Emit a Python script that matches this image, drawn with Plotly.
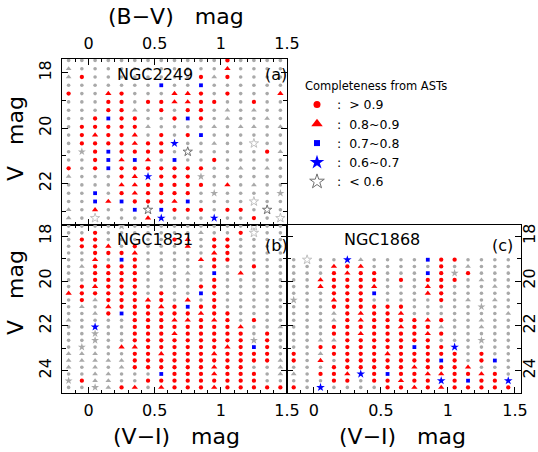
import plotly.graph_objects as go

W, H = 538, 452
FONT = "DejaVu Sans"

# colour-bin centres (mag), same for every panel
COLOR_BINS = [-0.15, -0.05, 0.05, 0.15, 0.25, 0.35, 0.45, 0.55, 0.65,
              0.75, 0.85, 0.95, 1.05, 1.15, 1.25, 1.35, 1.45]

# V-magnitude bin centres per panel
V_BINS_A = [17.55, 17.85, 18.15, 18.45, 18.75, 19.05, 19.35, 19.65, 19.95, 20.25,
            20.55, 20.85, 21.15, 21.45, 21.75, 22.05, 22.35, 22.65, 22.95, 23.25]
V_BINS_B = [17.55, 17.85, 18.15, 18.45, 18.75, 19.05, 19.35, 19.65, 19.95, 20.25,
            20.55, 20.85, 21.15, 21.45, 21.75, 22.05, 22.35, 22.65, 22.95, 23.25,
            23.55, 23.85, 24.15, 24.45, 24.75]
V_BINS_C = [19.05, 19.35, 19.65, 19.95, 20.25, 20.55, 20.85, 21.15, 21.45, 21.75,
            22.05, 22.35, 22.65, 22.95, 23.25, 23.55, 23.85, 24.15, 24.45, 24.75]

# completeness class per cell
# R >0.9  T 0.8-0.9  B 0.7-0.8  S 0.6-0.7  H <0.6   (inside the selection)
# g/G/x/h : same classes drawn in grey (outside the selection)
GRID_A = [
    "ggggggggggggRgggg",
    "GgggggggggggTgggg",
    "GRggggggggRGRgggg",
    "gggggggBggBgggggg",
    "RggTRgggTTRgRgggT",
    "gggRRgRRTTRRggRgg",
    "gggRRGgRgRRgGgGgg",
    "ggRBRRggRBRgGggGg",
    "gRRRRRGggggGgGGgG",
    "gRTRRTgRgRBgggggg",
    "gRRRRTRRSggGgghgg",
    "gxRBRRRRgHgggggRG",
    "ggRBTBTgBggRggggg",
    "RgRBRRRRRRRggGgGg",
    "GgggRTSRRRxgggggg",
    "ggggTTRRRRRgTgGgg",
    "ggBgRTRRRRgxggggx",
    "ggBTBRRRTBgggghgg",
    "GgTggBHBRRRgRRgHg",
    "GghgggTSgggSggRgh",
]
GRID_B = [
    "ggggxggggggggghgg",
    "ggRgggggggGggRhgg",
    "gRRgggggRTgRRgggg",
    "gRRTgRgggTgRRgggg",
    "ggRRRTgggggTRgggg",
    "ggTgBRggggTRRgggg",
    "gGRRRRgggggRggRgg",
    "ggRRRRgggGgBgTggg",
    "ggRRRRgggggRggggg",
    "gRTRRRggggRRggggg",
    "TRRRRRgRggBRggggg",
    "gRGRRRTRgTgRggggg",
    "gGgTRRRTRBRRggggg",
    "ggGRBRRRRRTRRgggg",
    "GggggRRRTTRTRgRgg",
    "ggSggRRRRRRRRTggG",
    "ggxggRRRTRRRRRgRg",
    "ggxggRRRRRRRRRxRg",
    "gxggTTRRRRRRTRBRg",
    "GGGggRRTRRRTRRRRg",
    "GGGGGRRRRRRRRRRRG",
    "GgGgGRRRRRRTRRggG",
    "ggGGgggBRRRTRRRgG",
    "xRGGggRRRRRRRRRgg",
    "ggxGRTgTRRRTRRRRR",
]
GRID_C = [
    "ghggSGggggBRRgggg",
    "gggTRTgggggRgGggg",
    "gggRTRRgggBRxRggg",
    "ggTRRRRgRgRRRgGgg",
    "ggTRRRTgggTRgggGg",
    "gggRRRBgggTRggggg",
    "xggTRRgggggRgGgGg",
    "gggRRRRRRgggggxgg",
    "gggGRTRRTgggggggG",
    "gggGRTRRRRTRggGgg",
    "gggRRRRRTRRGggGgg",
    "gggRRTRRRRTRggggg",
    "ggGGRRRRRRRgggxgg",
    "ggRRRRRRRBRRSgggg",
    "RgGRRRRTRRRRRgRgg",
    "RgTgRRRRRRRBRgRBg",
    "gggRRRRRRTRRRTggg",
    "GgRRTSRBRRTTRRTRg",
    "gggRRgRRTRRSRBRRS",
    "RgSggggRRTRTRRRRR",
]

LEGEND_CODES = ["R", "T", "B", "S", "H"]
LEGEND_LABELS = [":  > 0.9", ":  0.8~0.9", ":  0.7~0.8", ":  0.6~0.7", ":  < 0.6"]

RED, BLUE, GREY = "#ff0000", "#0000ff", "#a9a9a9"
STYLES = {
    "R": dict(symbol="circle", color=RED, size=4.3),
    "T": dict(symbol="triangle-up", color=RED, size=5.5),
    "B": dict(symbol="square", color=BLUE, size=3.8),
    "S": dict(symbol="star", color=BLUE, size=6.5),
    "H": dict(symbol="star-open", color="#707070", size=7),
    "g": dict(symbol="circle", color=GREY, size=3.6),
    "G": dict(symbol="triangle-up", color=GREY, size=5),
    "x": dict(symbol="star", color=GREY, size=6),
    "h": dict(symbol="star-open", color="#c0c0c0", size=7),
}
LEGEND_SIZES = {"R": 7, "T": 10, "B": 6, "S": 11, "H": 11}


def cells(grid, vbins, code):
    xs, ys = [], []
    for v, row in zip(vbins, grid):
        for c, ch in zip(COLOR_BINS, row):
            if ch == code:
                xs.append(c)
                ys.append(v)
    return xs, ys


fig = go.Figure()

panels = [(GRID_A, V_BINS_A, "x", "y"),
          (GRID_B, V_BINS_B, "x2", "y2"),
          (GRID_C, V_BINS_C, "x3", "y3")]
for grid, vbins, xa, ya in panels:
    for code, st in STYLES.items():
        xs, ys = cells(grid, vbins, code)
        if not xs:
            continue
        fig.add_trace(go.Scatter(
            x=xs, y=ys, xaxis=xa, yaxis=ya, mode="markers", showlegend=False,
            marker=dict(symbol=st["symbol"], color=st["color"], size=st["size"],
                        line=dict(width=1 if "open" in st["symbol"] else 0,
                                  color=st["color"])),
            hoverinfo="skip"))

# legend entries
for code, label in zip(LEGEND_CODES, LEGEND_LABELS):
    st = STYLES[code]
    fig.add_trace(go.Scatter(
        x=[None], y=[None], mode="markers", name=label,
        marker=dict(symbol=st["symbol"], color=st["color"], size=LEGEND_SIZES[code],
                    line=dict(width=1 if "open" in st["symbol"] else 0,
                              color=st["color"]))))

def px_x(p):
    return p / W

def px_y(p):
    return 1 - p / H

common = dict(showline=True, linecolor="black", linewidth=1, showgrid=False,
              zeroline=False, ticks="inside", tickcolor="black",
              tickfont=dict(family=FONT, size=16, color="black"))
xcommon = dict(common, tick0=0, dtick=0.5, ticklen=6, ticklabelstandoff=3,
               minor=dict(dtick=0.1, ticks="inside", ticklen=3, tickcolor="black"))
ycommon = dict(common, tick0=18, dtick=2, ticklen=6, tickangle=-90,
               minor=dict(dtick=1, ticks="inside", ticklen=4, tickcolor="black"))

fig.update_layout(
    width=W, height=H,
    margin=dict(l=0, r=0, t=0, b=0, autoexpand=False),
    plot_bgcolor="white", paper_bgcolor="white",
    xaxis=dict(xcommon, domain=[px_x(62), px_x(287)], anchor="y", side="top",
               range=[-0.2, 1.5], mirror="allticks"),
    yaxis=dict(ycommon, domain=[px_y(225), px_y(59)], anchor="x",
               range=[23.5, 17.5], mirror="allticks", ticklabelstandoff=4),
    xaxis2=dict(xcommon, domain=[px_x(62), px_x(287)], anchor="y2",
                range=[-0.2, 1.5], mirror="allticks"),
    yaxis2=dict(ycommon, domain=[px_y(393), px_y(225)], anchor="x2",
                range=[25, 17.5], mirror="allticks", ticklabelstandoff=4),
    xaxis3=dict(xcommon, domain=[px_x(287), px_x(521)], anchor="y3",
                range=[-0.2, 1.545], mirror=True),
    yaxis3=dict(ycommon, domain=[px_y(393), px_y(225)], anchor="x3", side="right",
                range=[25, 17.5], mirror="allticks", ticklabelstandoff=-6),
    legend=dict(x=px_x(303), xanchor="left", y=px_y(75), yanchor="top",
                bgcolor="rgba(0,0,0,0)", borderwidth=0, indentation=-6,
                font=dict(family=FONT, size=12.5, color="black"),
                title=dict(text="Completeness from ASTs",
                           font=dict(family=FONT, size=11.5, color="black"))),
)

def note(text, x, y, size, angle=0):
    fig.add_annotation(text=text, x=px_x(x), y=px_y(y), xref="paper", yref="paper",
                       showarrow=False, xanchor="center", yanchor="middle",
                       textangle=angle, font=dict(family=FONT, size=size, color="black"))

note("NGC2249", 155, 74, 16)
note("(a)", 276, 74, 16)
note("NGC1831", 155, 239, 16)
note("(b)", 276, 245, 16)
note("NGC1868", 382, 239, 16)
note("(c)", 502, 245, 16)
note("(B\u2212V)   mag", 176, 16, 22)
note("V   mag", 15, 139, 22, -90)
note("V   mag", 15, 293, 22, -90)
note("(V\u2212I)   mag", 176, 436, 22)
note("(V\u2212I)   mag", 402, 436, 22)

fig.write_html("out.html", config={"displayModeBar": False},
               post_script="document.body.style.margin='0';")
